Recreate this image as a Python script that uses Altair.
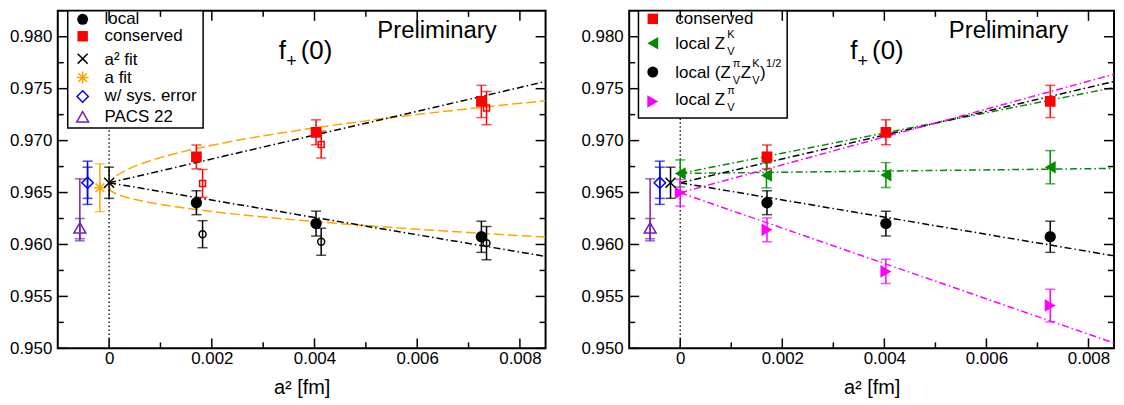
import altair as alt
import pandas as pd

FONT = "Liberation Sans"

# ---------------- data ----------------
a2_pts = [0.00170, 0.00403, 0.00725]          # filled symbols
a2_open = [0.00182, 0.00413, 0.00735]         # open symbols (slightly shifted)

local_val = [0.96402, 0.96201, 0.96074]
local_err = [0.00115, 0.00120, 0.00150]
local_open_val = [0.96099, 0.96026, 0.96013]
local_open_err = [0.00130, 0.00130, 0.00160]
cons_val = [0.96843, 0.97080, 0.97377]
cons_err = [0.00115, 0.00120, 0.00155]
cons_open_val = [0.96588, 0.96962, 0.97313]
cons_open_err = [0.00134, 0.00130, 0.00160]

# continuum results
a2fit_pos_l = [0.00000]
a2fit_pos_r = [-0.00019]
a2fit_val = [0.96594]
a2fit_err = [0.00150]
afit_pos = [-0.00018]
afit_val = [0.96546]
afit_err = [0.00230]
sys_pos_l = [-0.00042]
sys_pos_r = [-0.00040]
sys_val = [0.96594]
sys_err_stat = [0.00150]
sys_err_tot = [0.00208]
pacs_pos_l = [-0.00057]
pacs_pos_r = [-0.00059]
pacs_val = [0.96160]
pacs_stat_lo = [0.96055]
pacs_stat_hi = [0.96250]
pacs_tot_lo = [0.96035]
pacs_tot_hi = [0.96632]

# right panel series
a2_zk = [0.0, 0.00169, 0.00403, 0.00725]
zk_val = [0.96684, 0.96665, 0.96668, 0.96744]
zk_err = [0.00130, 0.00120, 0.00120, 0.00160]
a2_zpi = [0.0, 0.00170, 0.00403, 0.00725]
zpi_val = [0.96498, 0.96141, 0.95741, 0.95412]
zpi_err = [0.00128, 0.00115, 0.00117, 0.00157]

# fit lines (end points read at a^2 = 0 and at the right frame)
fit_x_ends = [0.0, 0.0085]
fit_cons_a2 = [0.96594, 0.97569]
fit_local_a2 = [0.96594, 0.95885]
fit_local_r = [0.96594, 0.95891]
fit_zk_up = [0.96684, 0.97511]
fit_zk_flat = [0.96684, 0.96732]
fit_zpi_up = [0.96498, 0.97639]
fit_zpi_down = [0.96498, 0.95051]

# "a fit" curves
afit_x = [0.0, 0.00003, 0.0001, 0.0003, 0.0006, 0.001, 0.0015, 0.002,
          0.003, 0.004, 0.005, 0.006, 0.007, 0.008, 0.0085]
afit_cons = [0.96550, 0.96600, 0.96641, 0.96707, 0.96772, 0.96836, 0.96901,
             0.96955, 0.97046, 0.97122, 0.97190, 0.97251, 0.97307, 0.97359, 0.97384]
afit_local = [0.96550, 0.96522, 0.96498, 0.96460, 0.96423, 0.96386, 0.96349,
              0.96317, 0.96265, 0.96221, 0.96182, 0.96147, 0.96115, 0.96085, 0.96071]

zero_line = [0.0]

x_major = [0.0, 0.002, 0.004, 0.006, 0.008]
x_minor = [0.001, 0.003, 0.005, 0.007]
y_major = [0.950, 0.955, 0.960, 0.965, 0.970, 0.975, 0.980]
y_minor = [0.9525, 0.9575, 0.9625, 0.9675, 0.9725, 0.9775]

# ---------------- styles ----------------
RED = "#ff0000"
BLACK = "#000000"
ORANGE = "#ffa500"
BLUE = "#0000ff"
PURPLE = "#7221bc"
GREEN = "#008b00"
MAGENTA = "#ff00ff"
X_PATH = "M-1,-1L1,1M-1,1L1,-1"
AST_PATH = "M-1,0L1,0M0,-1L0,1M-0.72,-0.72L0.72,0.72M-0.72,0.72L0.72,-0.72"
DASHDOT = [7, 3, 1.5, 3]
DASHED = [10, 4]

XS = alt.Scale(domain=[-0.001, 0.0085], nice=False, zero=False)
YS = alt.Scale(domain=[0.950, 0.98249], nice=False, zero=False)

x_axis = alt.Axis(values=x_major, orient="bottom",
                  labelExpr="datum.value == 0 ? '0' : format(datum.value, '.3f')",
                  ticks=False, domain=False, grid=False, labelFont=FONT,
                  labelFontSize=17, labelColor="black", labelPadding=2,
                  labelOverlap=False, labelFlush=False,
                  title="a² [fm]", titleFont=FONT, titleFontSize=20,
                  titleFontWeight="normal", titleColor="black", titlePadding=11)
y_axis = alt.Axis(values=y_major, orient="left", format=".3f", ticks=False,
                  domain=False, grid=False, labelFont=FONT, labelFontSize=17,
                  labelColor="black", labelPadding=6, title=None)

EMPTY = alt.Data(values=[{}])


def XE(f="x"):
    return alt.X(f"{f}:Q", scale=XS, axis=x_axis)


def YE(f="y"):
    return alt.Y(f"{f}:Q", scale=YS, axis=y_axis)


def points(xs, ys, color, shape, size, filled):
    df = pd.DataFrame({"x": xs, "y": ys})
    return alt.Chart(df).mark_point(shape=shape, size=size, filled=filled,
                                    color=color, strokeWidth=1.5, opacity=1,
                                    clip=True).encode(x=XE(), y=YE())


def errbars(xs, lo, hi, color, cap=10):
    df = pd.DataFrame({"x": xs, "lo": lo, "hi": hi})
    b = alt.Chart(df)
    return [
        b.mark_rule(color=color, strokeWidth=1.5).encode(x=XE(), y=YE("lo"), y2="hi:Q"),
        b.mark_tick(color=color, orient="horizontal", size=cap, thickness=1.5).encode(x=XE(), y=YE("lo")),
        b.mark_tick(color=color, orient="horizontal", size=cap, thickness=1.5).encode(x=XE(), y=YE("hi")),
    ]


def sym_err(xs, vals, errs, color):
    lo = [v - e for v, e in zip(vals, errs)]
    hi = [v + e for v, e in zip(vals, errs)]
    return errbars(xs, lo, hi, color)


def line(xs, ys, color, dash, interp="linear"):
    df = pd.DataFrame({"x": xs, "y": ys})
    return alt.Chart(df).mark_line(color=color, strokeDash=dash, strokeWidth=1.5,
                                   clip=True, interpolate=interp).encode(x=XE(), y=YE())


def txt(s, x, y, size, align="left", baseline="middle"):
    return alt.Chart(EMPTY).mark_text(text=s, fontSize=size, font=FONT, align=align,
                                      baseline=baseline, color="black").encode(
        x=alt.value(x), y=alt.value(y))


def sym(x, y, shape, color, size, filled):
    return alt.Chart(EMPTY).mark_point(shape=shape, size=size, filled=filled,
                                       color=color, strokeWidth=1.5, opacity=1).encode(
        x=alt.value(x), y=alt.value(y))


def box(x0, x1, y0, y1):
    return alt.Chart(EMPTY).mark_rect(fill="white", stroke="black", strokeWidth=1.5).encode(
        x=alt.value(x0), x2=alt.value(x1), y=alt.value(y0), y2=alt.value(y1))


def frame_ticks(W, H):
    dxM = pd.DataFrame({"v": x_major})
    dxm = pd.DataFrame({"v": x_minor})
    dyM = pd.DataFrame({"v": y_major})
    dym = pd.DataFrame({"v": y_minor})
    tk = dict(color="black", strokeWidth=1.5)
    return [
        alt.Chart(dxM).mark_rule(**tk).encode(x=XE("v"), y=alt.value(H), y2=alt.value(H - 10)),
        alt.Chart(dxM).mark_rule(**tk).encode(x=XE("v"), y=alt.value(0), y2=alt.value(10)),
        alt.Chart(dxm).mark_rule(**tk).encode(x=XE("v"), y=alt.value(H), y2=alt.value(H - 6)),
        alt.Chart(dxm).mark_rule(**tk).encode(x=XE("v"), y=alt.value(0), y2=alt.value(6)),
        alt.Chart(dyM).mark_rule(**tk).encode(y=YE("v"), x=alt.value(0), x2=alt.value(10)),
        alt.Chart(dyM).mark_rule(**tk).encode(y=YE("v"), x=alt.value(W), x2=alt.value(W - 10)),
        alt.Chart(dym).mark_rule(**tk).encode(y=YE("v"), x=alt.value(0), x2=alt.value(6)),
        alt.Chart(dym).mark_rule(**tk).encode(y=YE("v"), x=alt.value(W), x2=alt.value(W - 6)),
    ]


def zero_rule(H):
    return alt.Chart(pd.DataFrame({"x": zero_line})).mark_rule(
        color="black", strokeWidth=1.3, strokeDash=[1.5, 2.5]).encode(
        x=XE(), y=alt.value(0), y2=alt.value(H))


def title_texts():
    return [
        txt("f", 222, 48.5, 26, baseline="alphabetic"),
        txt("+", 234.7, 51, 18, align="center"),
        txt("(0)", 244, 48.5, 26, baseline="alphabetic"),
        txt("Preliminary", 381, 27.7, 24, align="center", baseline="alphabetic"),
    ]


H = 339
WL = 490
WR = 487

# ---------------- left panel ----------------
L = [zero_rule(H)]
L += [line(afit_x, afit_cons, ORANGE, DASHED, "monotone"),
      line(afit_x, afit_local, ORANGE, DASHED, "monotone"),
      line(fit_x_ends, fit_cons_a2, BLACK, DASHDOT),
      line(fit_x_ends, fit_local_a2, BLACK, DASHDOT)]
L += sym_err(a2_open, local_open_val, local_open_err, BLACK)
L += sym_err(a2_open, cons_open_val, cons_open_err, RED)
L += sym_err(a2_pts, local_val, local_err, BLACK)
L += sym_err(a2_pts, cons_val, cons_err, RED)
L += errbars(pacs_pos_l, pacs_tot_lo, pacs_tot_hi, PURPLE)
L += errbars(pacs_pos_l, pacs_stat_lo, pacs_stat_hi, PURPLE)
L += sym_err(sys_pos_l, sys_val, sys_err_tot, BLUE)
L += sym_err(sys_pos_l, sys_val, sys_err_stat, BLUE)
L += sym_err(afit_pos, afit_val, afit_err, ORANGE)
L += sym_err(a2fit_pos_l, a2fit_val, a2fit_err, BLACK)
L += [points(a2_open, local_open_val, BLACK, "circle", 49, False),
      points(a2_open, cons_open_val, RED, "square", 36, False),
      points(a2_pts, local_val, BLACK, "circle", 130, True),
      points(a2_pts, cons_val, RED, "square", 115, True),
      points(pacs_pos_l, pacs_val, PURPLE, "triangle-up", 144, False),
      points(sys_pos_l, sys_val, BLUE, "diamond", 130, False),
      points(afit_pos, afit_val, ORANGE, AST_PATH, 144, False),
      points(a2fit_pos_l, a2fit_val, BLACK, X_PATH, 100, False)]
# legend
L += [box(10, 146, 0, 117.7),
      sym(25, 8.5, "circle", BLACK, 121, True), txt("local", 47, 8.5, 17),
      sym(25, 25.5, "square", RED, 110, True), txt("conserved", 47, 25.5, 17),
      sym(25, 48, X_PATH, BLACK, 100, False), txt("a² fit", 47, 49.5, 17),
      sym(25, 67, AST_PATH, ORANGE, 144, False), txt("a fit", 47, 67, 17),
      sym(25, 86, "diamond", BLUE, 130, False), txt("w/ sys. error", 47, 86, 17),
      sym(25, 106.5, "triangle-up", PURPLE, 144, False), txt("PACS 22", 47, 107, 17)]
L += title_texts()
L += frame_ticks(WL, H)
left = alt.layer(*L).properties(width=WL, height=H)

# ---------------- right panel ----------------
R = [zero_rule(H)]
R += [line(fit_x_ends, fit_zk_up, GREEN, DASHDOT),
      line(fit_x_ends, fit_zk_flat, GREEN, DASHDOT),
      line(fit_x_ends, fit_cons_a2, BLACK, DASHDOT),
      line(fit_x_ends, fit_local_r, BLACK, DASHDOT),
      line(fit_x_ends, fit_zpi_up, MAGENTA, DASHDOT),
      line(fit_x_ends, fit_zpi_down, MAGENTA, DASHDOT)]
R += sym_err(a2_pts, local_val, local_err, BLACK)
R += sym_err(a2_pts, cons_val, cons_err, RED)
R += sym_err(a2_zk, zk_val, zk_err, GREEN)
R += sym_err(a2_zpi, zpi_val, zpi_err, MAGENTA)
R += errbars(pacs_pos_r, pacs_tot_lo, pacs_tot_hi, PURPLE)
R += errbars(pacs_pos_r, pacs_stat_lo, pacs_stat_hi, PURPLE)
R += sym_err(sys_pos_r, sys_val, sys_err_tot, BLUE)
R += sym_err(sys_pos_r, sys_val, sys_err_stat, BLUE)
R += sym_err(a2fit_pos_r, a2fit_val, a2fit_err, BLACK)
R += [points(a2_pts, local_val, BLACK, "circle", 130, True),
      points(a2_pts, cons_val, RED, "square", 115, True),
      points(a2_zk, zk_val, GREEN, "triangle-left", 160, True),
      points(a2_zpi, zpi_val, MAGENTA, "triangle-right", 160, True),
      points(pacs_pos_r, pacs_val, PURPLE, "triangle-up", 144, False),
      points(sys_pos_r, sys_val, BLUE, "diamond", 130, False),
      points(a2fit_pos_r, a2fit_val, BLACK, X_PATH, 100, False)]
SUB, SUP = 8, -9
R += [box(9.3, 158.7, 0, 107.7),
      sym(23.7, 8, "square", RED, 110, True), txt("conserved", 46.3, 8, 17),
      sym(23.7, 32.5, "triangle-left", GREEN, 160, True), txt("local Z", 46.3, 33, 17),
      txt("V", 98.5, 33 + SUB, 11), txt("K", 98.5, 33 + SUP, 11),
      sym(23.7, 61.5, "circle", BLACK, 121, True), txt("local (Z", 46.3, 62.5, 17),
      txt("V", 104, 62.5 + SUB, 11), txt("π", 104, 62.5 + SUP, 11),
      txt("Z", 112, 62.5, 17),
      txt("V", 123.5, 62.5 + SUB, 11), txt("K", 123.5, 62.5 + SUP, 11),
      txt(")", 131.5, 62.5, 17), txt("1/2", 137.5, 62.5 - 9, 11),
      sym(23.7, 91, "triangle-right", MAGENTA, 160, True), txt("local Z", 46.3, 90, 17),
      txt("V", 98.5, 90 + SUB, 11), txt("π", 98.5, 90 + SUP, 11)]
R += title_texts()
R += frame_ticks(WR, H)
right = alt.layer(*R).properties(width=WR, height=H)

chart = alt.hconcat(left, right, spacing=32).properties(
    padding={"left": 0, "right": 0, "top": 0, "bottom": 0}
).configure_view(stroke="black", strokeWidth=2)

chart.save("out.html", embed_options={"renderer": "svg", "actions": False})
